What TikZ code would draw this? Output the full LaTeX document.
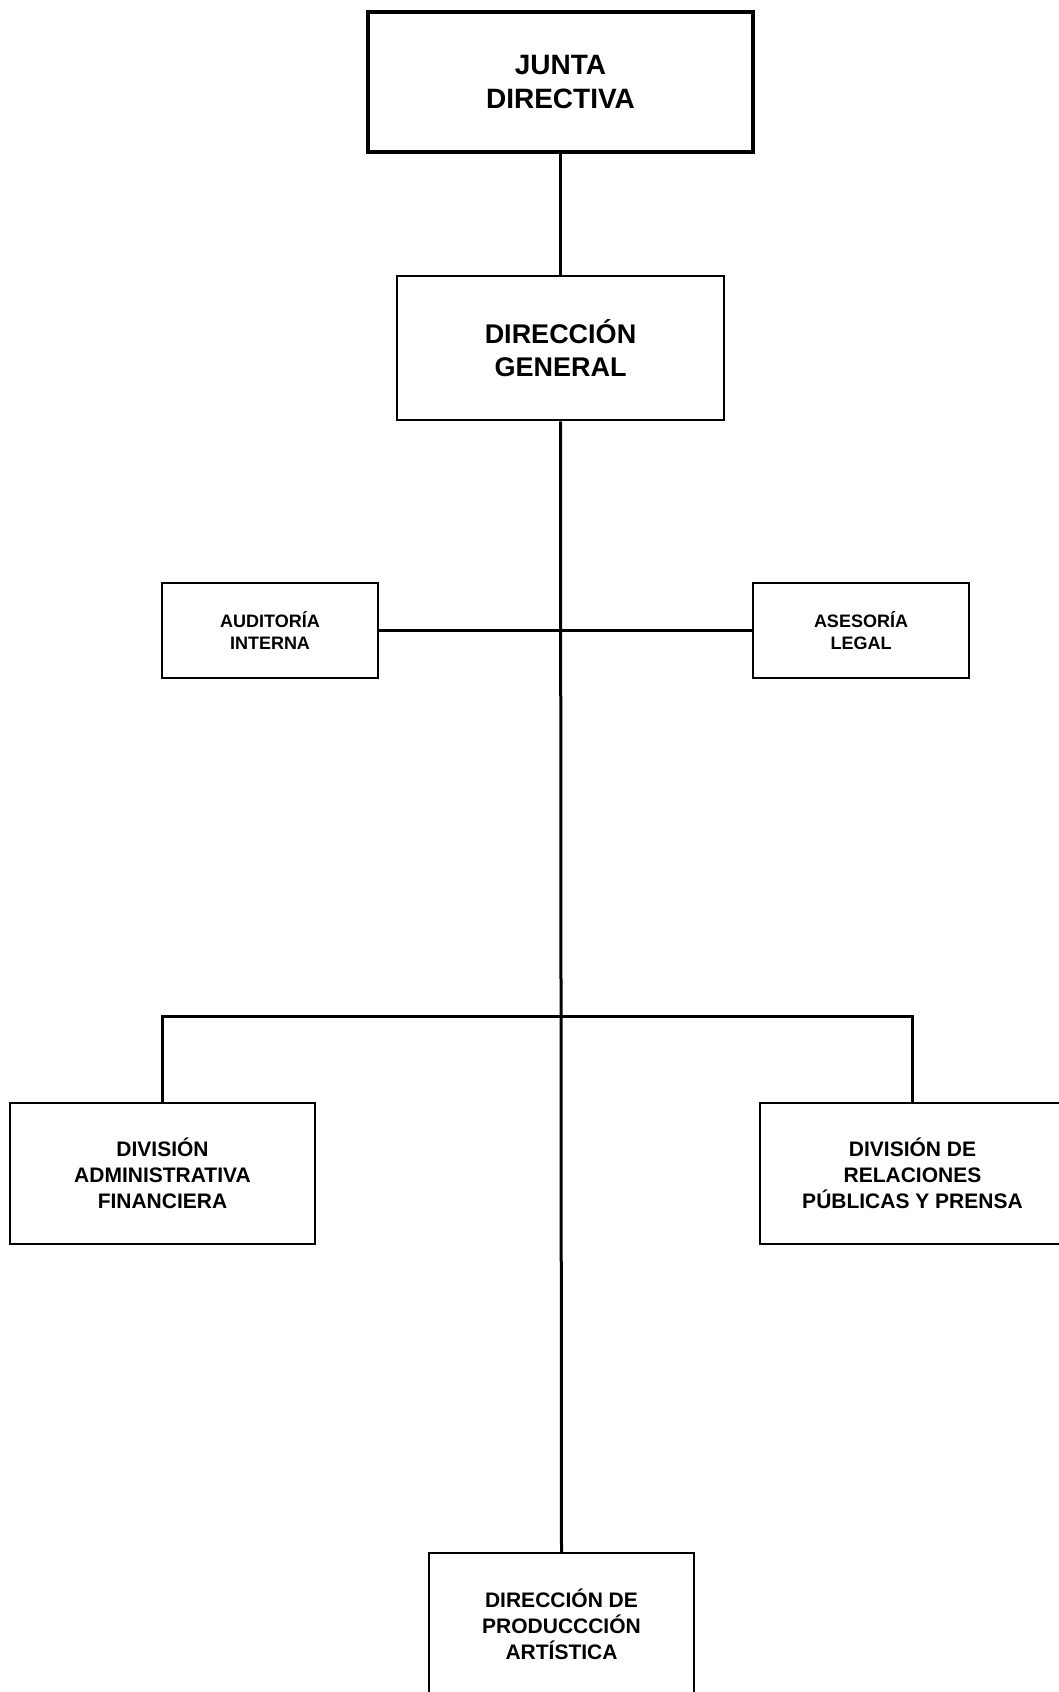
\documentclass[tikz,border=0pt]{standalone}
\usepackage{fontspec}
\setmainfont{Liberation Sans}
\usepackage{tikz}
\usetikzlibrary{calc}

\begin{document}
\begin{tikzpicture}[x=1pt,y=-1pt,
        orgbox/.style={draw,fill=white,line width=2.5pt,align=center,inner sep=0pt,font=\bfseries},
        topbox/.style={orgbox,line width=4pt},
        link/.style={line width=3pt}]
        % fix the page size and cut what runs past it
        \useasboundingbox (0,0) rectangle (1059,1692);
        \clip (0,0) rectangle (1059,1692);

        % draw the boxes
        \node[topbox,minimum width=385pt,minimum height=140pt,
              font=\bfseries\fontsize{28}{34.5}\selectfont] (junta) at (560.5,82) {JUNTA\\DIRECTIVA};
        \node[orgbox,minimum width=327pt,minimum height=144pt,
              font=\bfseries\fontsize{27}{33}\selectfont] (dirgen) at (560.5,348) {DIRECCIÓN\\GENERAL};
        \node[orgbox,minimum width=216pt,minimum height=95pt,
              font=\bfseries\fontsize{18}{22.5}\selectfont] (auditoria) at (270,630.5) {AUDITORÍA\\INTERNA};
        \node[orgbox,minimum width=216pt,minimum height=95pt,
              font=\bfseries\fontsize{18}{22.5}\selectfont] (asesoria) at (861,630.5) {ASESORÍA\\LEGAL};
        \node[orgbox,minimum width=305pt,minimum height=141pt,
              font=\bfseries\fontsize{21}{26}\selectfont] (divadm) at (162.5,1173.5) {DIVISIÓN\\ADMINISTRATIVA\\FINANCIERA};
        \node[orgbox,minimum width=305pt,minimum height=141pt,
              font=\bfseries\fontsize{21}{26}\selectfont] (divrp) at (912.5,1173.5) {DIVISIÓN DE\\RELACIONES\\PÚBLICAS Y PRENSA};
        \node[orgbox,minimum width=265pt,minimum height=142pt,
              font=\bfseries\fontsize{21}{26}\selectfont] (prod) at (561.5,1624) {DIRECCIÓN DE\\PRODUCCCIÓN\\ARTÍSTICA};

        % the point where the divisions branch off
        \coordinate (branch) at (561.5,1016);

        % draw the connectors
        \draw[link] (junta) -- (dirgen);
        \draw[link] (dirgen.south) -- (prod.north);
        \draw[link] (auditoria.east) -- (asesoria.west);
        \draw[link] (divadm.north) |- (branch) -| (divrp.north);
\end{tikzpicture}
\end{document}
